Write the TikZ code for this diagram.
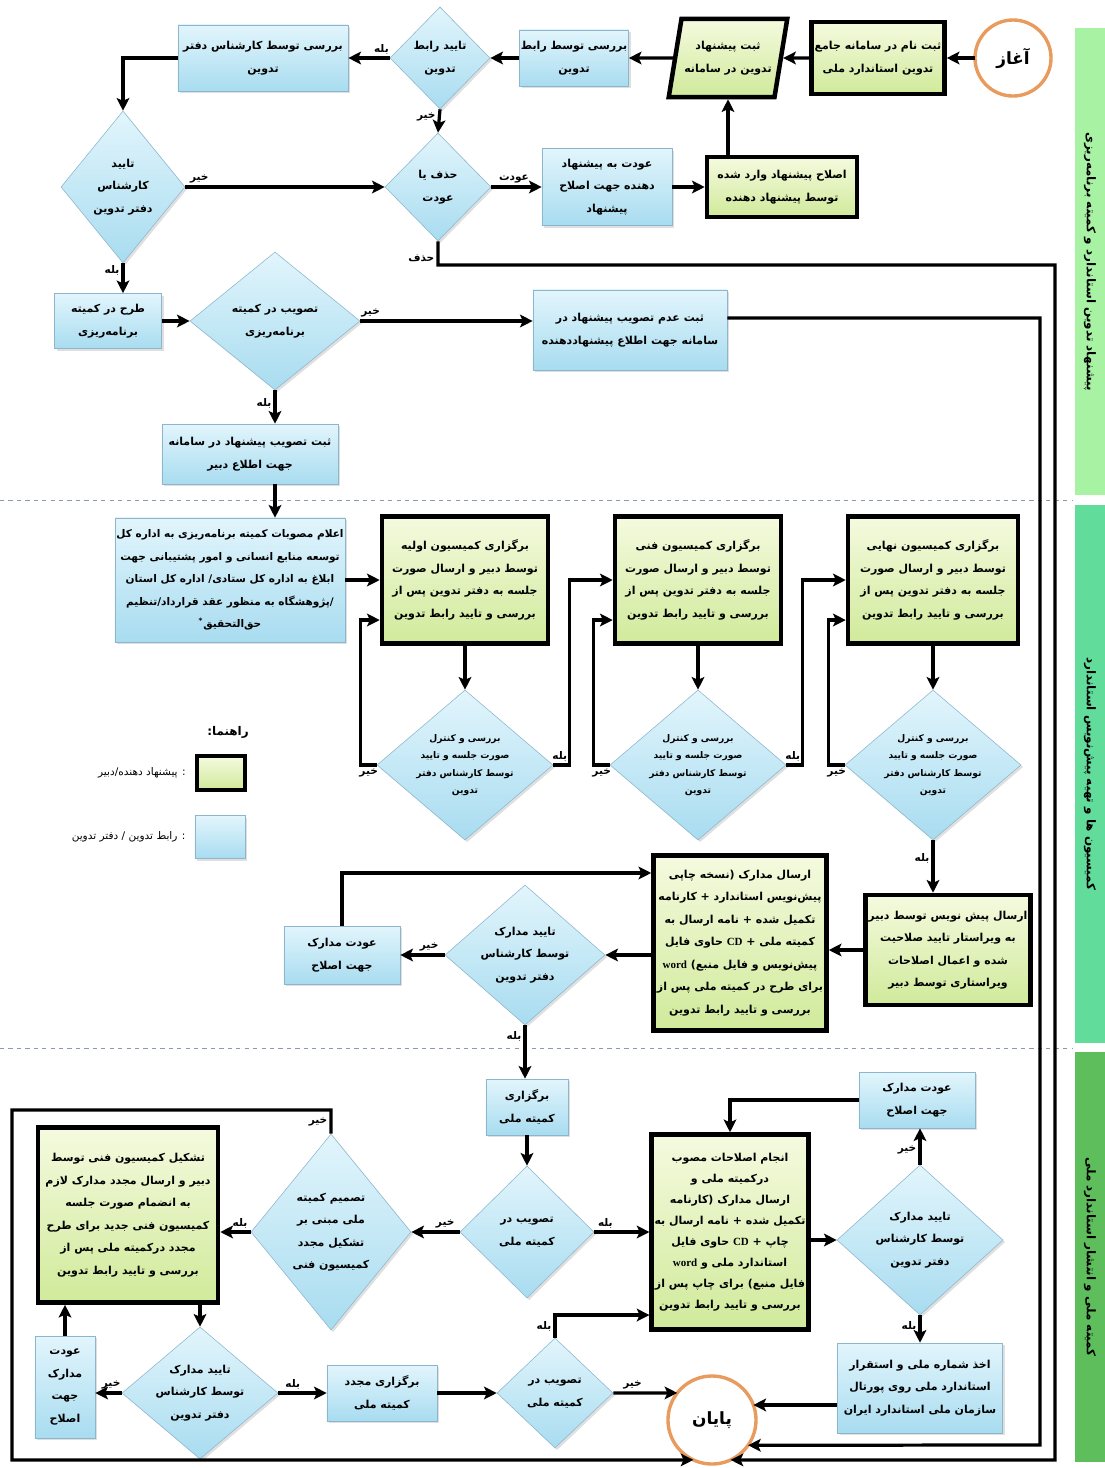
\documentclass[tikz,border=0pt]{standalone}
\usepackage{fontspec}
\usetikzlibrary{arrows.meta,positioning,calc,shapes.geometric,shadows}
\TeXXeTstate=1
\newfontfamily\fa[Script=Arabic]{DejaVu Sans}
\newfontfamily\lat{Liberation Serif}
\definecolor{BlueTop}{HTML}{E2F5FC}
\definecolor{BlueBot}{HTML}{A8DCF0}
\definecolor{BlueEdge}{HTML}{8DB6CC}
\definecolor{GreenTop}{HTML}{F5FADF}
\definecolor{GreenBot}{HTML}{D0EA9A}
\definecolor{Orange}{HTML}{E89B5C}
\definecolor{LaneA}{HTML}{A8F2A4}
\definecolor{LaneB}{HTML}{62DC9B}
\definecolor{LaneC}{HTML}{5DBE5B}
\definecolor{SepGray}{HTML}{8A9BB0}
\newcommand{\rl}[1]{\leavevmode\beginR #1\endR}
\newcommand{\lr}[1]{\beginL{\lat\bfseries #1}\endL}
\newcommand{\boxfont}{\fa\bfseries\fontsize{7.8}{16}\selectfont}
\newcommand{\smallfont}{\fa\bfseries\fontsize{6.5}{12.5}\selectfont}
\newcommand{\tagfont}{\fa\bfseries\fontsize{7.5}{9}\selectfont}
\tikzset{
  blu/.style={draw=BlueEdge,top color=BlueTop,bottom color=BlueBot,align=center,inner sep=1pt,font=\boxfont,drop shadow={opacity=.25,shadow xshift=1.5pt,shadow yshift=-1.5pt}},
  grn/.style={draw=black,line width=3.2pt,top color=GreenTop,bottom color=GreenBot,align=center,inner sep=2pt,font=\boxfont},
  dia/.style={blu,diamond,inner sep=-3cm},
  ends/.style={circle,draw=Orange,line width=2.4pt,fill=white,outer sep=0pt,font=\fa\bfseries\fontsize{12}{14}\selectfont},
  arr/.style={-{Stealth[length=9pt,width=9pt,inset=2pt]},line width=2.3pt},
  tag/.style={font=\tagfont,inner sep=1.5pt},
  lane/.style={rotate=-90,inner sep=0pt,font=\fa\bfseries\fontsize{8.5}{10}\selectfont},
  sep/.style={draw=SepGray,dashed,line width=.6pt},
}
\begin{document}
\begin{tikzpicture}[x=0.025cm,y=-0.025cm]
\useasboundingbox (0,0) rectangle (1105,1468);
% lanes
\node[lane,fill=LaneA,minimum width=11.675cm,minimum height=.75cm] (laneA) at (1090,261.5) {\rl{پیشنهاد تدوین استاندارد و کمیته برنامه‌ریزی}};
\node[lane,fill=LaneB,minimum width=13.45cm,minimum height=.75cm] (laneB) at (1090,774) {\rl{کمیسیون ها و تهیه پیش‌نویس استاندارد}};
\node[lane,fill=LaneC,minimum width=10.25cm,minimum height=.75cm] (laneC) at (1090,1257) {\rl{کمیته ملی و انتشار استاندارد ملی}};
\draw[sep] (0,500) -- (1072,500);
\draw[sep] (0,1048) -- (1072,1048);
% top part
\node[ends,minimum size=1.9cm] (start) at (1013,58) {آغاز};
\node[grn,minimum width=3.325cm,minimum height=1.8cm] (reg) at (878,58) {\rl{ثبت نام در سامانه جامع}\\\rl{تدوین استاندارد ملی}};
\node[grn,trapezium,trapezium left angle=72,trapezium right angle=108,trapezium stretches=true,minimum width=2.95cm,minimum height=1.95cm] (prop) at (728,58) {\rl{ثبت پیشنهاد}\\\rl{تدوین در سامانه}};
\node[blu,minimum width=2.7cm,minimum height=1.4cm] (chkR) at (574,58) {\rl{بررسی توسط رابط}\\تدوین};
\node[dia,minimum width=2.5cm,minimum height=2.55cm] (okR) at (440,58) {\rl{تایید رابط}\\تدوین};
\node[blu,minimum width=4.25cm,minimum height=1.65cm] (chkK) at (263,58) {\rl{بررسی توسط کارشناس دفتر}\\تدوین};
\node[dia,minimum width=3.1cm,minimum height=3.8cm] (okK) at (123,187) {تایید\\کارشناس\\\rl{دفتر تدوین}};
\node[dia,minimum width=2.65cm,minimum height=2.7cm] (delret) at (438,187) {\rl{حذف یا}\\عودت};
\node[blu,minimum width=3.25cm,minimum height=1.925cm] (back) at (607,187) {\rl{عودت به پیشنهاد}\\\rl{دهنده جهت اصلاح}\\پیشنهاد};
\node[grn,minimum width=3.75cm,minimum height=1.5cm] (fix) at (782,187) {\rl{اصلاح پیشنهاد وارد شده}\\\rl{توسط پیشنهاد دهنده}};
\node[blu,minimum width=2.675cm,minimum height=1.375cm] (plan) at (108,321) {\rl{طرح در کمیته}\\برنامه‌ریزی};
\node[dia,minimum width=4.25cm,minimum height=3.45cm] (planok) at (275,321) {\rl{تصویب در کمیته}\\برنامه‌ریزی};
\node[blu,minimum width=4.85cm,minimum height=2cm] (reject) at (630,330) {\rl{ثبت عدم تصویب پیشنهاد در}\\\rl{سامانه جهت اطلاع پیشنهاددهنده}};
\node[blu,minimum width=4.4cm,minimum height=1.5cm] (accept) at (250,454) {\rl{ثبت تصویب پیشنهاد در سامانه}\\\rl{جهت اطلاع دبیر}};
% commissions
\node[blu,minimum width=5.75cm,minimum height=3.1cm,font=\fa\bfseries\fontsize{7.5}{16}\selectfont] (announce) at (230,580) {\rl{اعلام مصوبات کمیته برنامه‌ریزی به اداره کل}\\\rl{توسعه منابع انسانی و امور پشتیبانی جهت}\\\rl{ابلاغ به اداره کل ستادی/ اداره کل استان}\\\rl{/پژوهشگاه به منظور عقد قرارداد/تنظیم}\\\rl{حق‌التحقیق\textsuperscript{*}}};
\node[grn,minimum width=4.15cm,minimum height=3.175cm] (com1) at (465,580) {\rl{برگزاری کمیسیون اولیه}\\\rl{توسط دبیر و ارسال صورت}\\\rl{جلسه به دفتر تدوین پس از}\\\rl{بررسی و تایید رابط تدوین}};
\node[grn,minimum width=4.15cm,minimum height=3.175cm] (com2) at (698,580) {\rl{برگزاری کمیسیون فنی}\\\rl{توسط دبیر و ارسال صورت}\\\rl{جلسه به دفتر تدوین پس از}\\\rl{بررسی و تایید رابط تدوین}};
\node[grn,minimum width=4.25cm,minimum height=3.175cm] (com3) at (933,580) {\rl{برگزاری کمیسیون نهایی}\\\rl{توسط دبیر و ارسال صورت}\\\rl{جلسه به دفتر تدوین پس از}\\\rl{بررسی و تایید رابط تدوین}};
\node[dia,font=\smallfont,minimum width=4.4cm,minimum height=3.75cm] (rev1) at (465,765) {\rl{بررسی و کنترل}\\\rl{صورت جلسه و تایید}\\\rl{توسط کارشناس دفتر}\\تدوین};
\node[dia,font=\smallfont,minimum width=4.4cm,minimum height=3.75cm] (rev2) at (698,765) {\rl{بررسی و کنترل}\\\rl{صورت جلسه و تایید}\\\rl{توسط کارشناس دفتر}\\تدوین};
\node[dia,font=\smallfont,minimum width=4.4cm,minimum height=3.75cm] (rev3) at (933,765) {\rl{بررسی و کنترل}\\\rl{صورت جلسه و تایید}\\\rl{توسط کارشناس دفتر}\\تدوین};
\node[grn,minimum width=4.1cm,minimum height=2.75cm] (send) at (948,950) {\rl{ارسال پیش نویس توسط دبیر}\\\rl{به ویراستار تایید صلاحیت}\\\rl{شده و اعمال اصلاحات}\\\rl{ویراستاری توسط دبیر}};
\node[grn,minimum width=4.325cm,minimum height=4.375cm] (docs) at (740,943) {\rl{ارسال مدارک (نسخه چاپی}\\\rl{پیش‌نویس استاندارد + کارنامه}\\\rl{تکمیل شده + نامه ارسال به}\\\rl{کمیته ملی + \lr{CD} حاوی فایل}\\\rl{پیش‌نویس و فایل منبع) \lr{word}}\\\rl{برای طرح در کمیته ملی پس از}\\\rl{بررسی و تایید رابط تدوین}};
\node[dia,minimum width=4cm,minimum height=3.5cm] (okD1) at (525,955) {\rl{تایید مدارک}\\\rl{توسط کارشناس}\\\rl{دفتر تدوین}};
\node[blu,minimum width=2.9cm,minimum height=1.45cm] (retD1) at (342,955) {\rl{عودت مدارک}\\\rl{جهت اصلاح}};
% legend
\node[tag,font=\fa\bfseries\fontsize{8.5}{10}\selectfont] (lgd) at (228,732) {\rl{راهنما:}};
\node[grn,line width=3pt,minimum width=1.2cm,minimum height=.85cm] (lgA) at (221,773) {};
\node[font=\fa\fontsize{7.5}{9}\selectfont,left=3pt of lgA] (lgAt) {\rl{: پیشنهاد دهنده/دبیر}};
\node[blu,minimum width=1.25cm,minimum height=1.075cm] (lgB) at (220,837) {};
\node[font=\fa\fontsize{7.5}{9}\selectfont,left=3pt of lgB] (lgBt) {\rl{: رابط تدوین / دفتر تدوین}};
% national committee
\node[blu,minimum width=2.05cm,minimum height=1.4cm] (natl) at (527,1107) {برگزاری\\\rl{کمیته ملی}};
\node[dia,minimum width=3.35cm,minimum height=3.3cm] (natok1) at (527,1232) {\rl{تصویب در}\\\rl{کمیته ملی}};
\node[dia,minimum width=4cm,minimum height=4.9cm] (decide) at (331,1232) {\rl{تصمیم کمیته}\\\rl{ملی مبنی بر}\\\rl{تشکیل مجدد}\\\rl{کمیسیون فنی}};
\node[grn,minimum width=4.5cm,minimum height=4.375cm] (newcom) at (128,1215) {\rl{تشکیل کمیسیون فنی توسط}\\\rl{دبیر و ارسال مجدد مدارک لازم}\\\rl{به انضمام صورت جلسه}\\\rl{کمیسیون فنی جدید برای طرح}\\\rl{مجدد درکمیته ملی پس از}\\\rl{بررسی و تایید رابط تدوین}};
\node[dia,minimum width=3.9cm,minimum height=3.3cm] (okD3) at (200,1393) {\rl{تایید مدارک}\\\rl{توسط کارشناس}\\\rl{دفتر تدوین}};
\node[blu,minimum width=1.5cm,minimum height=2.55cm] (retD3) at (65,1387) {عودت\\مدارک\\جهت\\اصلاح};
\node[blu,minimum width=2.75cm,minimum height=1.4cm] (renatl) at (382,1393) {\rl{برگزاری مجدد}\\\rl{کمیته ملی}};
\node[dia,minimum width=2.9cm,minimum height=2.75cm] (natok2) at (555,1393) {\rl{تصویب در}\\\rl{کمیته ملی}};
\node[grn,minimum width=3.875cm,minimum height=4.875cm,font=\fa\bfseries\fontsize{7.8}{15}\selectfont] (fin) at (730,1232) {\rl{انجام اصلاحات مصوب}\\\rl{درکمیته ملی و}\\\rl{ارسال مدارک (کارنامه}\\\rl{تکمیل شده + نامه ارسال به}\\\rl{چاپ + \lr{CD} حاوی فایل}\\\rl{استاندارد ملی و \lr{word}}\\\rl{فایل منبع) برای چاپ پس از}\\\rl{بررسی و تایید رابط تدوین}};
\node[dia,minimum width=4.15cm,minimum height=3.75cm] (okD4) at (920,1240) {\rl{تایید مدارک}\\\rl{توسط کارشناس}\\\rl{دفتر تدوین}};
\node[blu,minimum width=2.9cm,minimum height=1.4cm] (retD4) at (917,1100) {\rl{عودت مدارک}\\\rl{جهت اصلاح}};
\node[blu,minimum width=4.125cm,minimum height=2.25cm] (pub) at (920,1388) {\rl{اخذ شماره ملی و استقرار}\\\rl{استاندارد ملی روی پورتال}\\\rl{سازمان ملی استاندارد ایران}};
\node[ends,minimum size=2.2cm] (stop) at (712,1420) {پایان};
% corners of the long return lines
\coordinate (dly) at (1055,265);
\coordinate (dlb) at (1055,1460);
\coordinate (rjx) at (1040,1445);
\coordinate (lft1) at (12,1110);
\coordinate (lft2) at (12,1460);
% connectors, top
\draw[arr] (start) -- (reg);
\draw[arr] (reg.west) -- (prop.east);
\draw[arr] (prop.west) -- (chkR.east);
\draw[arr] (chkR.west) -- (okR.east);
\draw[arr] (okR.west) -- node[tag,above,pos=.2] (t1) {بله} (chkK.east);
\draw[arr] (chkK.west) -| (okK.north);
\draw[arr] (okR.south) -- node[tag,left,pos=.35] (t2) {خیر} (delret.north);
\draw[arr] (okK.east) -- node[tag,above,pos=.07] (t3) {خیر} (delret.west);
\draw[arr] (delret.east) -- node[tag,above,pos=.45] (t4) {عودت} (back.west);
\draw[arr] (back.east) -- (fix.west);
\draw[arr] (fix.north -| prop.south) -- (prop.south);
\draw[arr] (delret.south) |- node[tag,left,pos=.35] (t5) {حذف} (dly) -- (dlb) -- (stop.-65);
\draw[arr] (okK.south) -- node[tag,left,pos=.25] (t6) {بله} (okK.south |- plan.north);
\draw[arr] (plan.east) -- (planok.west);
\draw[arr] (planok.east) -- node[tag,above,pos=.06] (t7) {خیر} (planok.east -| reject.west);
\draw[arr] ([yshift=.3cm]reject.east) -| (rjx) -- (stop.-35);
\draw[arr] (planok.south) -- node[tag,left,pos=.4] (t8) {بله} (planok.south |- accept.north);
\draw[arr] (accept.south -| planok.south) -- (announce.north -| planok.south);
% connectors, commissions
\draw[arr] (announce.east) -- (com1.west);
\draw[arr] (com1.south) -- (rev1.north);
\draw[arr] (com2.south) -- (rev2.north);
\draw[arr] (com3.south) -- (rev3.north);
\draw[arr] (rev1.west) -- node[tag,below,pos=.5] (t9) {خیر} ++(-16,0) |- ([yshift=-1cm]com1.west);
\draw[arr] (rev2.west) -- node[tag,below,pos=.5] (t10) {خیر} ++(-16,0) |- ([yshift=-1cm]com2.west);
\draw[arr] (rev3.west) -- node[tag,below,pos=.5] (t11) {خیر} ++(-16,0) |- ([yshift=-1cm]com3.west);
\draw[arr] (rev1.east) -- node[tag,above,pos=.4] (t12) {بله} ++(16,0) |- (com2.west);
\draw[arr] (rev2.east) -- node[tag,above,pos=.4] (t13) {بله} ++(16,0) |- (com3.west);
\draw[arr] (rev3.south) -- node[tag,left,pos=.35] (t14) {بله} (rev3.south |- send.north);
\draw[arr] (send.west) -- (docs.east |- send.west);
\draw[arr] (docs.west |- okD1.east) -- (okD1.east);
\draw[arr] (okD1.west) -- node[tag,above,pos=.35] (t15) {خیر} (retD1.east |- okD1.west);
\draw[arr] (retD1.north) |- ([yshift=1.75cm]docs.west);
\draw[arr] (okD1.south) -- node[tag,left,pos=.2] (t16) {بله} (okD1.south |- natl.north);
% connectors, national committee
\draw[arr] (natl.south) -- (natok1.north);
\draw[arr] (natok1.west) -- node[tag,above,pos=.3] (t17) {خیر} (decide.east);
\draw[arr] (natok1.east) -- node[tag,above,pos=.2] (t18) {بله} (fin.west |- natok1.east);
\draw[arr] (decide.west) -- node[tag,above,pos=.35] (t19) {بله} (decide.west -| newcom.east);
\draw[arr] (decide.north) |- node[tag,left,pos=.25] (t20) {خیر} (lft1) -- (lft2) -- (stop.245);
\draw[arr] (newcom.south -| okD3.north) -- (okD3.north);
\draw[arr] (okD3.west) -- node[tag,above,pos=.4] (t21) {خیر} (retD3.east |- okD3.west);
\draw[arr] (retD3.north) -- (retD3.north |- newcom.south);
\draw[arr] (okD3.east) -- node[tag,above,pos=.3] (t22) {بله} (renatl.west);
\draw[arr] (renatl.east) -- (natok2.west);
\draw[arr] (natok2.north) |- node[tag,left,pos=.25] (t23) {بله} ([yshift=-2.075cm]fin.west);
\draw[arr] (natok2.east) -- node[tag,above,pos=.3] (t24) {خیر} (stop.142);
\draw[arr] (fin.east |- okD4.west) -- (okD4.west);
\draw[arr] (okD4.north) -- node[tag,left,pos=.4] (t25) {خیر} (okD4.north |- retD4.south);
\draw[arr] (retD4.west) -| (fin.north);
\draw[arr] (okD4.south) -- node[tag,left,pos=.4] (t26) {بله} (okD4.south |- pub.north);
\draw[arr] (pub.west |- stop.20) -- (stop.20);
\end{tikzpicture}
\end{document}
